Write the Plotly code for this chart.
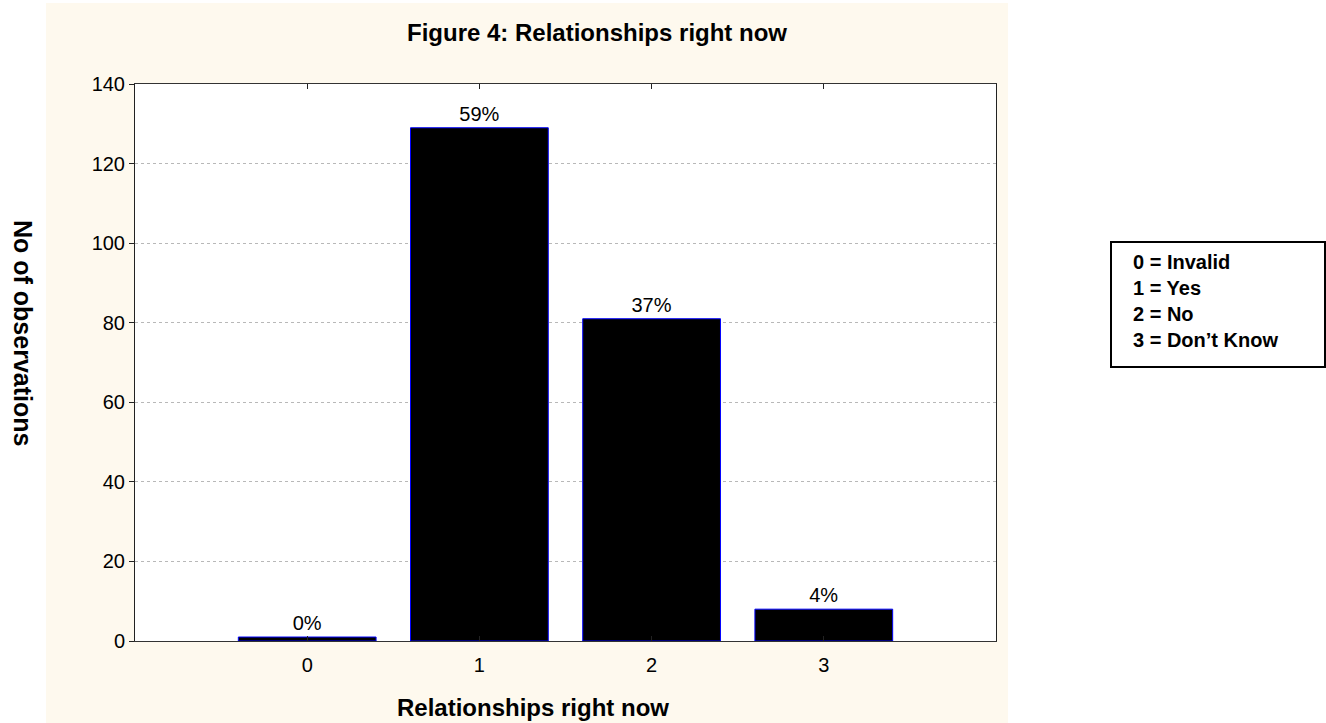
import plotly.graph_objects as go

categories = [0, 1, 2, 3]
counts = [1, 129, 81, 8]
pct_labels = ["0%", "59%", "37%", "4%"]
y_ticks = [0, 20, 40, 60, 80, 100, 120, 140]
legend_lines = ["0 = Invalid", "1 = Yes", "2 = No", "3 = Don\u2019t Know"]

W, H = 1326, 723
L, R, T, B = 135, 996, 84, 641  # plot area pixel edges


def px(x):
    return (x - L) / (R - L)


def py(y):
    return (B - y) / (B - T)


FONT = "Liberation Sans, Arial, sans-serif"

fig = go.Figure()
fig.add_trace(go.Bar(
    x=categories, y=counts, width=0.8,
    marker=dict(color="black", line=dict(color="#0000FF", width=1)),
    text=pct_labels, textposition="outside", cliponaxis=False,
    textfont=dict(family=FONT, size=20, color="black"),
    showlegend=False, hoverinfo="x+y",
))

fig.update_layout(
    width=W, height=H,
    margin=dict(l=L, r=W - R, t=T, b=H - B, pad=0),
    paper_bgcolor="white", plot_bgcolor="white",
    font=dict(family=FONT, size=20, color="black"),
    showlegend=False,
    xaxis=dict(
        range=[-1, 4], tickvals=categories, ticktext=[str(c) for c in categories],
        ticks="inside", ticklen=5, tickcolor="#222", mirror="ticks",
        showline=True, linecolor="#333", linewidth=1,
        showgrid=False, zeroline=False, ticklabelstandoff=6,
        tickfont=dict(size=20),
    ),
    yaxis=dict(
        range=[0, 140], tickvals=y_ticks,
        ticks="outside", ticklen=5, tickcolor="#222",
        showline=True, linecolor="#222", linewidth=1, mirror=True,
        showgrid=True, gridcolor="#B8B8B8", griddash="dot", gridwidth=1,
        zeroline=False, tickfont=dict(size=20),
    ),
    yaxis2=dict(
        overlaying="y", side="right", range=[0, 140], tickvals=y_ticks,
        ticks="inside", ticklen=5, tickcolor="#222", showticklabels=False,
        showgrid=False, zeroline=False, showline=False,
    ),
    shapes=[
        dict(type="rect", xref="paper", yref="paper", layer="below",
             x0=px(46), x1=px(1008), y0=py(723), y1=py(3),
             fillcolor="#FEF9EE", line=dict(width=0)),
        dict(type="rect", xref="paper", yref="paper", layer="below",
             x0=0, x1=1, y0=0, y1=1,
             fillcolor="white", line=dict(width=0)),
        dict(type="rect", xref="paper", yref="paper", layer="above",
             x0=px(1111), x1=px(1325), y0=py(367), y1=py(242),
             fillcolor="rgba(0,0,0,0)", line=dict(color="black", width=2)),
    ],
    annotations=[
        dict(text="<b>Figure 4: Relationships right now</b>", xref="paper", yref="paper",
             x=px(597), y=py(33), xanchor="center", yanchor="middle", showarrow=False,
             font=dict(size=24)),
        dict(text="<b>Relationships right now</b>", xref="paper", yref="paper",
             x=px(533), y=py(707), xanchor="center", yanchor="middle", showarrow=False,
             font=dict(size=24)),
        dict(text="<b>No of observations</b>", xref="paper", yref="paper",
             x=px(23), y=py(333), xanchor="center", yanchor="middle", showarrow=False,
             textangle=90, font=dict(size=25)),
        dict(text="<b>" + "<br>".join(legend_lines) + "</b>", xref="paper", yref="paper",
             x=px(1131), y=py(301), xanchor="left", yanchor="middle", showarrow=False,
             align="left", font=dict(size=20)),
    ],
)

fig.write_html("out.html")
